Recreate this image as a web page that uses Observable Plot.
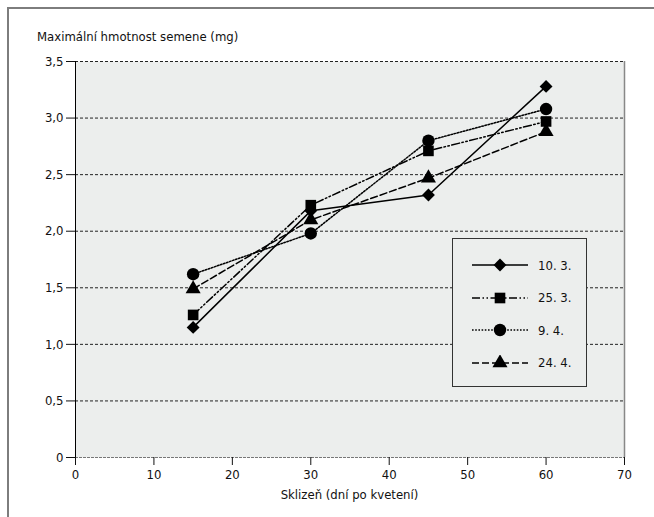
<!DOCTYPE html>
<html>
<head>
<meta charset="utf-8">
<script src="https://cdn.jsdelivr.net/npm/d3@7"></script>
<script src="https://cdn.jsdelivr.net/npm/@observablehq/plot@0.6"></script>
<style>
  html, body { margin: 0; padding: 0; background: #fff; overflow: hidden; }
  #wrap { position: relative; width: 654px; height: 517px; overflow: hidden;
    font-family: "Liberation Sans Narrow", "DejaVu Sans Condensed", "Roboto Condensed", sans-serif; }
  #frame { position: absolute; left: 7px; top: 7px; width: 700px; height: 600px; border: 2px solid #7d7d7d; box-sizing: border-box; }
  #chart { position: absolute; left: 0; top: 0; }
  .title { position: absolute; font-size: 13px; color: #111; white-space: nowrap; }
  #legend { position: absolute; left: 452px; top: 238px; width: 135px; height: 149px; box-sizing: border-box;
    border: 1px solid #333; background: #eceeed; }
  .row { position: absolute; left: 18px; height: 16px; display: flex; align-items: center; }
  .row span { font-size: 13px; color: #111; margin-left: 9px; }
</style>
</head>
<body>
<div id="wrap">
  <div id="chart"></div>
  <div id="frame"></div>
  <div class="title" style="left:37px; top:29px;">Maximální hmotnost semene (mg)</div>
  <div class="title" style="left:75px; width:549px; text-align:center; top:487px;">Sklizeň (dní po kvetení)</div>
  <div id="legend"></div>
</div>
<script>
// ---- data ----
const days = [15, 30, 45, 60];
const seriesNames = ["10. 3.", "25. 3.", "9. 4.", "24. 4."];
const s1003 = [1.15, 2.18, 2.32, 3.28];
const s2503 = [1.26, 2.23, 2.71, 2.97];
const s0904 = [1.62, 1.98, 2.80, 3.08];
const s2404 = [1.49, 2.10, 2.47, 2.88];
const xTicks = [0, 10, 20, 30, 40, 50, 60, 70];
const yTicks = [0, 0.5, 1.0, 1.5, 2.0, 2.5, 3.0, 3.5];

const seriesValues = [s1003, s2503, s0904, s2404];
const symbols = ["diamond2", "square", "circle", "triangle"];
const d3symbols = [d3.symbolDiamond2, d3.symbolSquare, d3.symbolCircle, d3.symbolTriangle];
const radii = [5.8, 6.0, 6.2, 5.6];
const dashes = [null, "8,2.5,1.5,2.5,1.5,2.5", "1.6,1.6", "7,3"];

const data = seriesNames.flatMap((name, i) =>
  days.map((d, j) => ({series: name, idx: i, day: d, value: seriesValues[i][j]})));

const fmtY = d => d === 0 ? "0" : d.toFixed(1).replace(".", ",");

const marks = [
  Plot.frame({fill: "#eceeed", stroke: null}),
  Plot.ruleY(yTicks.filter(d => d > 0), {stroke: "#222", strokeDasharray: "3,2", strokeWidth: 1}),
  Plot.ruleY([0], {stroke: "#777", strokeDasharray: "3,1", strokeWidth: 1}),
  Plot.ruleX([70], {stroke: "#888", strokeWidth: 1.5}),
  Plot.ruleX([0], {stroke: "#000", strokeWidth: 1}),
  Plot.axisY({ticks: yTicks, tickFormat: fmtY, tickSize: 9, tickPadding: 3, label: null, fontSize: 13}),
  Plot.axisX({ticks: xTicks, tickSize: 8, tickPadding: 4, label: null, fontSize: 13}),
];
seriesNames.forEach((name, i) => {
  const sub = data.filter(d => d.idx === i);
  marks.push(Plot.line(sub, {x: "day", y: "value", stroke: "#000", strokeWidth: 1.5,
    strokeDasharray: dashes[i] || undefined}));
});
seriesNames.forEach((name, i) => {
  const sub = data.filter(d => d.idx === i);
  marks.push(Plot.dot(sub, {x: "day", y: "value", symbol: symbols[i], fill: "#000", stroke: null, r: radii[i]}));
});

const chart = Plot.plot({
  width: 654, height: 517,
  marginLeft: 75, marginRight: 30, marginTop: 61, marginBottom: 60,
  style: {fontFamily: '"Liberation Sans Narrow", "DejaVu Sans Condensed", sans-serif', fontSize: "13px", background: "transparent", color: "#111"},
  x: {domain: [0, 70]},
  y: {domain: [0, 3.5]},
  marks
});
document.getElementById("chart").appendChild(chart);

// legend
const legend = d3.select("#legend");
seriesNames.forEach((name, i) => {
  const row = legend.append("div").attr("class", "row").style("top", (18 + i * 32.5) + "px");
  const svg = row.append("svg").attr("width", 58).attr("height", 16);
  svg.append("line").attr("x1", 1).attr("x2", 57).attr("y1", 8).attr("y2", 8)
    .attr("stroke", "#000").attr("stroke-width", 1.5)
    .attr("stroke-dasharray", dashes[i]);
  svg.append("path").attr("transform", "translate(29,8)")
    .attr("d", d3.symbol(d3symbols[i], Math.PI * radii[i] * radii[i])())
    .attr("fill", "#000");
  row.append("span").text(name);
});
</script>
</body>
</html>
